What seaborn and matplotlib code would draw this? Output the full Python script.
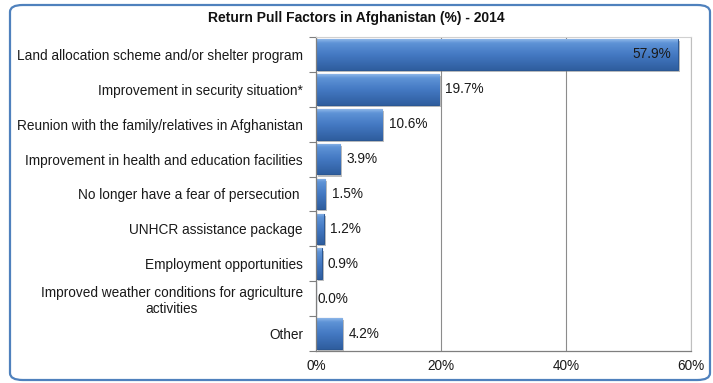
import numpy as np
import pandas as pd
import matplotlib
matplotlib.use("Agg")
import matplotlib.pyplot as plt
import seaborn as sns
from matplotlib.patches import FancyBboxPatch
from matplotlib import patheffects as pe
from matplotlib.colors import LinearSegmentedColormap
from matplotlib.ticker import PercentFormatter

categories = [
    "Land allocation scheme and/or shelter program",
    "Improvement in security situation*",
    "Reunion with the family/relatives in Afghanistan",
    "Improvement in health and education facilities",
    "No longer have a fear of persecution ",
    "UNHCR assistance package",
    "Employment opportunities",
    "Improved weather conditions for agriculture\nactivities",
    "Other",
]
values = [57.9, 19.7, 10.6, 3.9, 1.5, 1.2, 0.9, 0.0, 4.2]
value_labels = ["57.9%", "19.7%", "10.6%", "3.9%", "1.5%", "1.2%", "0.9%", "0.0%", "4.2%"]
xticks = [0, 20, 40, 60]
title = "Return Pull Factors in Afghanistan (%) - 2014"

df = pd.DataFrame({"factor": categories, "pct": values})

sns.set_theme(style="white")
plt.rcParams["font.family"] = ["Liberation Sans", "DejaVu Sans"]

FS = 9.8

fig = plt.figure(figsize=(7.13, 3.83), dpi=100)
ax = fig.add_axes([316 / 713, 1 - 351 / 383, 375 / 713, 314 / 383])

sns.barplot(data=df, y="factor", x="pct", orient="h", color="#3D72BC",
            width=0.88, ax=ax, saturation=1, linewidth=0.8, edgecolor="#2B5793")

ax.set_xlim(0, 60)
ax.set_ylim(8.5, -0.5)
ax.set_xticks(xticks)
ax.xaxis.set_major_formatter(PercentFormatter(decimals=0))
ax.set_xlabel("")
ax.set_ylabel("")

# gradient overlay on bars
cmap = LinearSegmentedColormap.from_list(
    "bar", [(0.0, "#8DB6E8"), (0.12, "#5E93D6"), (0.5, "#4479C3"), (1.0, "#2F5E9F")])
grad = np.linspace(0, 1, 64).reshape(-1, 1)
for p in ax.patches:
    x0, y0 = p.get_x(), p.get_y()
    w, h = p.get_width(), p.get_height()
    if w <= 0:
        continue
    p.set_path_effects([pe.SimplePatchShadow(offset=(1.5, -1.5), shadow_rgbFace="#808080", alpha=0.5),
                        pe.Normal()])
    im = ax.imshow(grad, cmap=cmap, aspect="auto", extent=(x0, x0 + w, y0 + h, y0),
                   origin="upper", zorder=p.get_zorder() + 0.1, interpolation="bicubic")
    im.set_clip_path(p)

ax.set_xlim(0, 60)
ax.set_ylim(8.5, -0.5)

# value labels
for i, (v, lab) in enumerate(zip(values, value_labels)):
    if v > 50:
        ax.text(v - 1.0, i, lab, ha="right", va="center", fontsize=FS, color="#1a1a1a", zorder=5)
    else:
        ax.text(v + (0.3 if v == 0 else 1.0), i, lab, ha="left", va="center",
                fontsize=FS, color="#1a1a1a", zorder=5)

# grid and spines
ax.grid(axis="x", color="#8C8C8C", linewidth=0.8)
ax.grid(axis="y", visible=False)
ax.set_axisbelow(True)
for s in ["left", "bottom"]:
    ax.spines[s].set_visible(True)
    ax.spines[s].set_color("#7F7F7F")
    ax.spines[s].set_linewidth(0.9)
ax.spines["top"].set_color("#D0D0D0")
ax.spines["right"].set_color("#BFBFBF")
ax.spines["top"].set_linewidth(0.8)
ax.spines["right"].set_linewidth(0.8)

ax.set_yticks(range(len(categories)))
ax.set_yticklabels(categories, multialignment="center")
ax.set_yticks([i + 0.5 for i in range(-1, len(categories))], minor=True)
ax.tick_params(axis="y", which="major", length=0, pad=9.4, labelsize=FS, labelcolor="#1a1a1a")
ax.tick_params(axis="y", which="minor", left=True, length=5, width=0.8, color="#7F7F7F")
ax.tick_params(axis="x", length=0, pad=6, labelsize=FS, labelcolor="#1a1a1a")

fig.text(0.5, 1 - 18 / 383, title, ha="center", va="center", fontsize=10, fontweight="bold",
         color="#111111")

border = FancyBboxPatch((10 / 713, 3 / 383), 700 / 713, 375 / 383,
                        boxstyle="round,pad=0,rounding_size=0.018",
                        transform=fig.transFigure, fill=False, edgecolor="#4F81BD",
                        linewidth=1.6, zorder=10)
fig.patches.append(border)

fig.savefig("out.png", dpi=100)
